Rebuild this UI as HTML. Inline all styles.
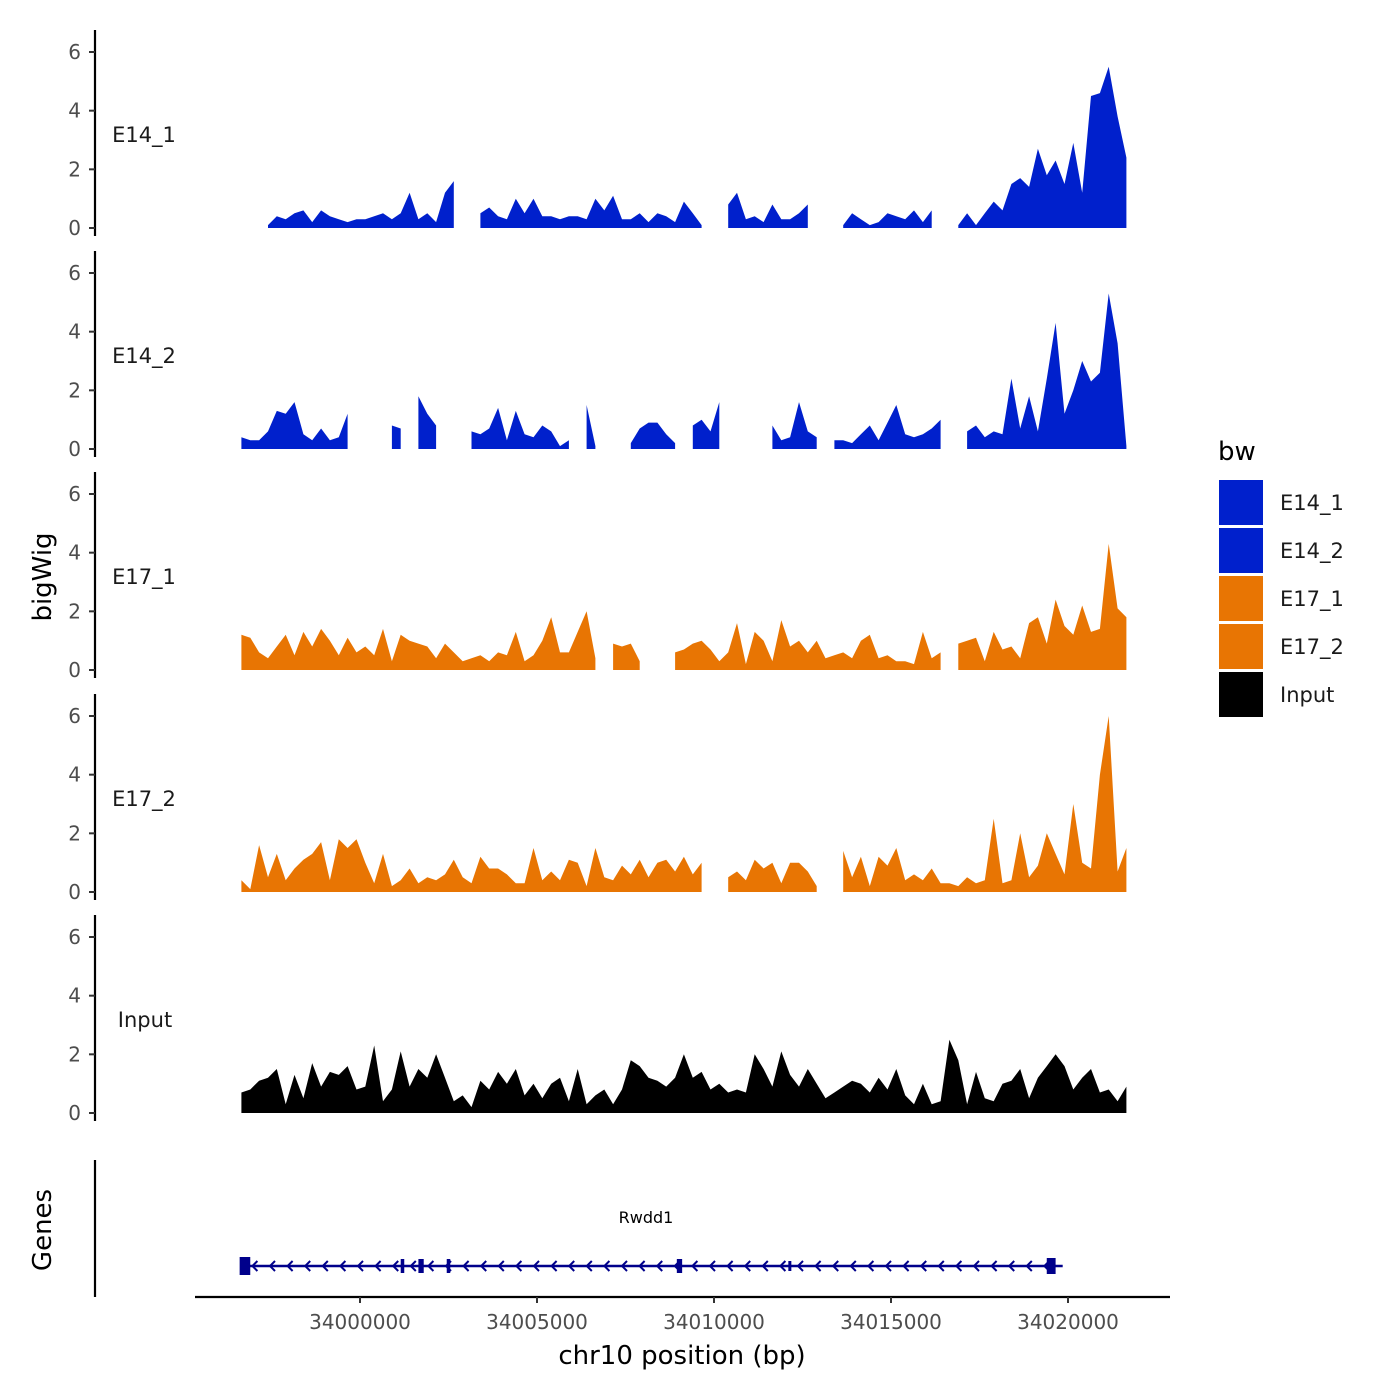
<!DOCTYPE html>
<html><head><meta charset="utf-8"><style>
html,body{margin:0;padding:0;background:#fff}
svg{display:block;font-family:"DejaVu Sans","Liberation Sans",sans-serif}
</style></head><body>
<svg id="chart" width="1400" height="1400" viewBox="0 0 1400 1400" xmlns="http://www.w3.org/2000/svg"></svg>
<script>
const binStart = 33996650;
const binStep = 250;
const trackNames = ["E14_1","E14_2","E17_1","E17_2","Input"];
const trackColors = ["#0020CC","#0020CC","#E87503","#E87503","#000000"];
const yTicks = [0,2,4,6];
const xTicks = [34000000,34005000,34010000,34015000,34020000];
const N = null;
const e14_1 = [N,0.3,N,0.1,0.4,0.3,0.5,0.6,0.2,0.6,0.4,0.3,0.2,0.3,0.3,0.4,0.5,0.3,0.5,1.2,0.3,0.5,0.2,1.2,1.6,N,N,0.5,0.7,0.4,0.3,1.0,0.5,1.0,0.4,0.4,0.3,0.4,0.4,0.3,1.0,0.6,1.1,0.3,0.3,0.5,0.2,0.5,0.4,0.2,0.9,0.5,0.1,N,N,0.8,1.2,0.3,0.4,0.2,0.8,0.3,0.3,0.5,0.8,N,N,N,0.1,0.5,0.3,0.1,0.2,0.5,0.4,0.3,0.6,0.2,0.6,N,N,0.1,0.5,0.1,0.5,0.9,0.6,1.5,1.7,1.4,2.7,1.8,2.3,1.5,2.9,1.2,4.5,4.6,5.5,3.8,2.4];
const e14_2 = [0.4,0.3,0.3,0.6,1.3,1.2,1.6,0.5,0.3,0.7,0.3,0.4,1.2,N,N,N,N,0.8,0.7,N,1.8,1.2,0.8,N,N,N,0.6,0.5,0.7,1.4,0.3,1.3,0.5,0.4,0.8,0.6,0.1,0.3,N,1.5,0.1,N,N,N,0.2,0.7,0.9,0.9,0.5,0.2,N,0.8,1.0,0.6,1.6,N,N,1.5,N,N,0.8,0.3,0.4,1.6,0.6,0.4,N,0.3,0.3,0.2,0.5,0.8,0.3,0.9,1.5,0.5,0.4,0.5,0.7,1.0,N,N,0.6,0.8,0.4,0.6,0.5,2.4,0.7,1.8,0.6,2.4,4.3,1.2,2.0,3.0,2.3,2.6,5.3,3.6,0.1];
const e17_1 = [1.2,1.1,0.6,0.4,0.8,1.2,0.5,1.3,0.8,1.4,1.0,0.5,1.1,0.6,0.8,0.5,1.4,0.3,1.2,1.0,0.9,0.8,0.4,0.9,0.6,0.3,0.4,0.5,0.3,0.6,0.5,1.3,0.3,0.5,1.0,1.8,0.6,0.6,1.3,2.0,0.4,N,0.9,0.8,0.9,0.3,N,N,N,0.6,0.7,0.9,1.0,0.7,0.3,0.6,1.6,0.2,1.3,1.0,0.3,1.7,0.8,1.0,0.6,1.0,0.4,0.5,0.6,0.4,1.0,1.2,0.4,0.5,0.3,0.3,0.2,1.3,0.4,0.6,N,0.9,1.0,1.1,0.3,1.3,0.7,0.8,0.4,1.6,1.8,0.9,2.4,1.5,1.2,2.2,1.3,1.4,4.3,2.1,1.8];
const e17_2 = [0.4,0.1,1.6,0.5,1.3,0.4,0.8,1.1,1.3,1.7,0.4,1.8,1.5,1.8,1.0,0.3,1.3,0.2,0.4,0.8,0.3,0.5,0.4,0.6,1.1,0.5,0.3,1.2,0.8,0.8,0.6,0.3,0.3,1.5,0.4,0.7,0.4,1.1,1.0,0.2,1.5,0.5,0.4,0.9,0.6,1.1,0.5,1.0,1.1,0.7,1.2,0.6,1.0,N,N,0.5,0.7,0.4,1.1,0.8,1.0,0.3,1.0,1.0,0.7,0.2,N,N,1.4,0.5,1.2,0.2,1.2,0.9,1.5,0.4,0.6,0.4,0.8,0.3,0.3,0.2,0.5,0.3,0.4,2.5,0.3,0.4,2.0,0.5,0.9,2.0,1.3,0.6,3.0,1.0,0.8,4.0,6.0,0.7,1.5];
const input = [0.7,0.8,1.1,1.2,1.5,0.3,1.3,0.5,1.7,0.9,1.4,1.3,1.6,0.8,0.9,2.3,0.4,0.8,2.1,0.9,1.5,1.2,2.0,1.2,0.4,0.6,0.2,1.1,0.8,1.4,1.0,1.5,0.6,1.0,0.5,1.0,1.2,0.4,1.5,0.3,0.6,0.8,0.3,0.8,1.8,1.6,1.2,1.1,0.9,1.2,2.0,1.2,1.4,0.8,1.0,0.7,0.8,0.7,2.0,1.5,0.9,2.1,1.3,0.9,1.5,1.0,0.5,0.7,0.9,1.1,1.0,0.7,1.2,0.8,1.5,0.6,0.3,1.0,0.3,0.4,2.5,1.8,0.3,1.4,0.5,0.4,1.0,1.1,1.5,0.5,1.2,1.6,2.0,1.6,0.8,1.2,1.5,0.7,0.8,0.4,0.9];
const trackValues = [e14_1,e14_2,e17_1,e17_2,input];
const geneStart = 33996650, geneEnd = 34019850;
const exonStarts = [33996600,34001150,34001650,34002450,34008950,34012100,34019400];
const exonEnds   = [33996900,34001250,34001800,34002550,34009100,34012170,34019650];
const exonHeights = [18,14,14,14,14,10,16];

const svg = document.getElementById('chart');
const NS = 'http://www.w3.org/2000/svg';
function mk(tag, attrs, parent){const e=document.createElementNS(NS,tag);for(const k in attrs)e.setAttribute(k,attrs[k]);(parent||svg).appendChild(e);return e;}
const xScale = bp => 360 + (bp - 34000000) * (708/20000);
const panelZero = [228,449,670,892,1113];
const yScale = (p,v) => panelZero[p] - v * (176/6);

for (let p=0;p<5;p++){
  const g = mk('g',{});
  
  
  const vals = trackValues[p];
  let seg = [];
  const flush = () => {
    if (seg.length){
      let d = 'M'+xScale(seg[0][0]).toFixed(1)+','+yScale(p,0);
      seg.forEach(s=>{d+='L'+xScale(s[0]).toFixed(1)+','+yScale(p,s[1]).toFixed(1);});
      d+='L'+xScale(seg[seg.length-1][0]).toFixed(1)+','+yScale(p,0)+'Z';
      const a = mk('path',{d:d,fill:trackColors[p]},g);
      
      
    }
    seg = [];
  };
  vals.forEach((v,i)=>{ if(v===null) flush(); else seg.push([binStart+i*binStep,v]); });
  flush();
  const ax = mk('line',{x1:95,x2:95,y1:panelZero[p]-198,y2:panelZero[p]+8,stroke:'#000','stroke-width':2.2},g);
  
  
  yTicks.forEach(t=>{
    const y = yScale(p,t);
    mk('line',{x1:89,x2:95,y1:y,y2:y,stroke:'#333','stroke-width':2},g);
    const tx = mk('text',{x:81,y:y+7,'text-anchor':'end','font-size':20,fill:'#4d4d4d'},g);
    tx.textContent = t;
    
    
  });
  const lb = mk('text',{x:p===4?145:144,y:yScale(p,3.2)+8,'text-anchor':'middle','font-size':21,fill:'#1a1a1a'},g);
  lb.textContent = trackNames[p];
  
  
}

const gg = mk('g',{});


mk('line',{x1:95,x2:95,y1:1160,y2:1297,stroke:'#000','stroke-width':2.2},gg);
mk('line',{x1:xScale(geneStart),x2:xScale(geneEnd),y1:1266,y2:1266,stroke:'#00008B','stroke-width':2.5},gg);
for (let x = xScale(geneStart)+12; x < xScale(geneEnd)-4; x += 17.6){
  mk('path',{d:`M${x+4},${1261}L${x-1},1266L${x+4},1271`,fill:'none',stroke:'#00008B','stroke-width':2},gg);
}
exonStarts.forEach((s,i)=>{
  const x1=xScale(s), x2=xScale(exonEnds[i]);
  const r = mk('rect',{x:x1,y:1266-exonHeights[i]/2,width:Math.max(3,x2-x1),height:exonHeights[i],fill:'#00008B'},gg);
  
  
});
const gn = mk('text',{x:646,y:1223,'text-anchor':'middle','font-size':16,fill:'#000'},gg);
gn.textContent='Rwdd1';



const xg = mk('g',{});


mk('line',{x1:195,x2:1170,y1:1297,y2:1297,stroke:'#000','stroke-width':2.2},xg);
xTicks.forEach(t=>{
  const x=xScale(t);
  mk('line',{x1:x,x2:x,y1:1297,y2:1303,stroke:'#333','stroke-width':2},xg);
  const tx = mk('text',{x:x,y:1329,'text-anchor':'middle','font-size':20,fill:'#4d4d4d'},xg);
  tx.textContent=t;
  
  
});
const xt = mk('text',{x:682,y:1364,'text-anchor':'middle','font-size':26,fill:'#000'});
xt.textContent='chr10 position (bp)';


const yt = mk('text',{x:0,y:0,'text-anchor':'middle','font-size':26,fill:'#000',transform:'translate(51,577) rotate(-90)'});
yt.textContent='bigWig';


const gt = mk('text',{x:0,y:0,'text-anchor':'middle','font-size':26,fill:'#000',transform:'translate(51,1230) rotate(-90)'});
gt.textContent='Genes';



const lg = mk('g',{});


const lt = mk('text',{x:1218,y:460,'font-size':26,fill:'#000'},lg);
lt.textContent='bw';


trackNames.forEach((n,i)=>{
  const y=480+i*48;
  const r = mk('rect',{x:1219,y:y,width:44,height:45,fill:trackColors[i]},lg);
  
  
  const t = mk('text',{x:1280,y:y+30,'font-size':21,fill:'#1a1a1a'},lg);
  t.textContent=n;
  
  
});
</script>
</body></html>
